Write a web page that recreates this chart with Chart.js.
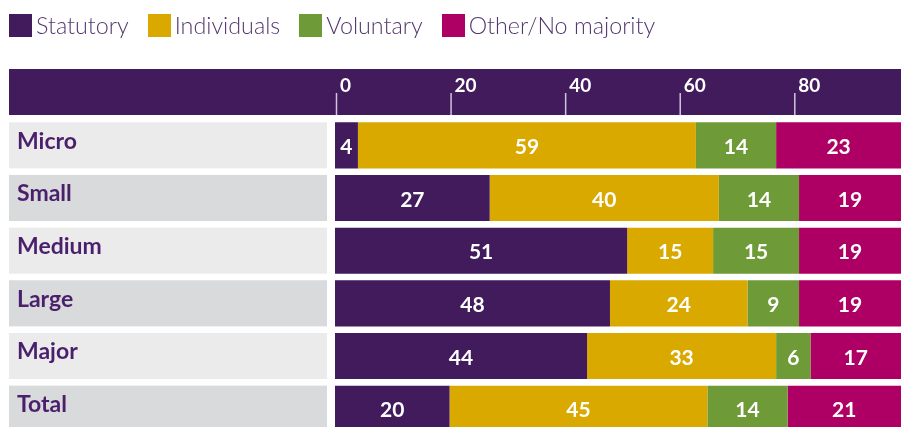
<!DOCTYPE html>
<html>
<head>
<meta charset="utf-8">
<script src="https://cdn.jsdelivr.net/npm/chart.js@4/dist/chart.umd.min.js"></script>
<style>
  body { margin: 0; background: #fff; overflow: hidden; }
  #wrap { position: relative; width: 901px; height: 427px; overflow: hidden; }
  #chart { position: absolute; left: 0; top: 0; width: 901px; height: 440px; }
  #legend { position: absolute; left: 9px; top: 14px; display: flex; align-items: center;
    font-family: Lato, "Open Sans", sans-serif; font-weight: 300; font-size: 23.3px; color: #54376f; }
  #legend .item { display: flex; align-items: center; margin-right: 19px; line-height: 23px; }
  #legend .box { width: 23px; height: 23px; margin-right: 4px; }
</style>
</head>
<body>
<div id="wrap">
  <canvas id="chart" width="901" height="440"></canvas>
  <div id="legend"></div>
</div>
<script>
const categories = ["Micro", "Small", "Medium", "Large", "Major", "Total"];
const seriesNames = ["Statutory", "Individuals", "Voluntary", "Other/No majority"];
const statutory = [4, 27, 51, 48, 44, 20];
const individuals = [59, 40, 15, 24, 33, 45];
const voluntary = [14, 14, 15, 9, 6, 14];
const otherNoMajority = [23, 19, 19, 19, 17, 21];
const xTicks = [0, 20, 40, 60, 80];

const PURPLE = "#421b5d";
const colors = [PURPLE, "#d9a900", "#6e9b37", "#ae0064"];
const FONT = "Lato, 'Open Sans', sans-serif";

// legend as plain html above the canvas
const legendEl = document.getElementById("legend");
seriesNames.forEach((name, i) => {
  const item = document.createElement("div");
  item.className = "item";
  item.innerHTML = '<span class="box" style="background:' + colors[i] + '"></span><span>' + name + "</span>";
  legendEl.appendChild(item);
});

// header band, tick marks and grey label bands
const backdrop = {
  id: "backdrop",
  beforeDraw(chart) {
    const { ctx, chartArea } = chart;
    ctx.save();
    ctx.fillStyle = PURPLE;
    ctx.fillRect(9, 69, chart.width - 9, chartArea.top - 4 - 69);
    chart.getDatasetMeta(0).data.forEach((bar, i) => {
      ctx.fillStyle = i % 2 ? "#d9dadc" : "#ebebeb";
      ctx.fillRect(9, bar.y - bar.height / 2, 318, bar.height);
    });
    const x = chart.scales.x;
    ctx.strokeStyle = "#cfc6da";
    ctx.lineWidth = 1.5;
    x.ticks.forEach((t) => {
      const px = x.getPixelForValue(t.value) + 1.5;
      ctx.beginPath();
      ctx.moveTo(px, 93);
      ctx.lineTo(px, chartArea.top - 4);
      ctx.stroke();
    });
    ctx.restore();
  },
};

// white value labels centred in the visible part of each segment
const valueLabels = {
  id: "valueLabels",
  afterDatasetsDraw(chart) {
    const { ctx, chartArea } = chart;
    ctx.save();
    ctx.fillStyle = "#fff";
    ctx.font = "bold 21px " + FONT;
    ctx.textAlign = "center";
    ctx.textBaseline = "middle";
    chart.data.datasets.forEach((ds, i) => {
      chart.getDatasetMeta(i).data.forEach((bar, j) => {
        const l = Math.max(Math.min(bar.x, bar.base), chartArea.left);
        const r = Math.min(Math.max(bar.x, bar.base), chartArea.right);
        ctx.fillText(ds.data[j], (l + r) / 2, bar.y + 2);
      });
    });
    ctx.restore();
  },
};

const seriesData = [statutory, individuals, voluntary, otherNoMajority];

new Chart(document.getElementById("chart"), {
  type: "bar",
  data: {
    labels: categories,
    datasets: seriesNames.map((name, i) => ({
      label: name,
      data: seriesData[i],
      backgroundColor: colors[i],
      borderWidth: 0,
      barPercentage: 0.875,
      categoryPercentage: 1,
    })),
  },
  plugins: [backdrop, valueLabels],
  options: {
    indexAxis: "y",
    responsive: false,
    maintainAspectRatio: false,
    animation: false,
    layout: { padding: { left: 17, right: 0, top: 0, bottom: 5 } },
    plugins: { legend: { display: false }, tooltip: { enabled: false } },
    scales: {
      x: {
        position: "top",
        stacked: true,
        min: 0,
        max: 98.8,
        grid: { display: false },
        border: { display: false },
        afterBuildTicks: (s) => { s.ticks = xTicks.map((v) => ({ value: v })); },
        afterFit: (s) => { s.height = 119; },
        ticks: {
          color: "#fff",
          align: "start",
          labelOffset: 5,
          padding: 14,
          autoSkip: false,
          maxRotation: 0,
          font: { family: FONT, size: 19, weight: "bold" },
        },
      },
      y: {
        stacked: true,
        grid: { display: false },
        border: { display: false },
        afterFit: (s) => {
          s.width = 318;
          s.paddingTop = 0;
          s.paddingBottom = 0;
        },
        ticks: {
          crossAlign: "far",
          labelOffset: -4,
          color: "#4a1f6b",
          font: { family: FONT, size: 23, weight: "bold" },
        },
      },
    },
  },
});
</script>
</body>
</html>
